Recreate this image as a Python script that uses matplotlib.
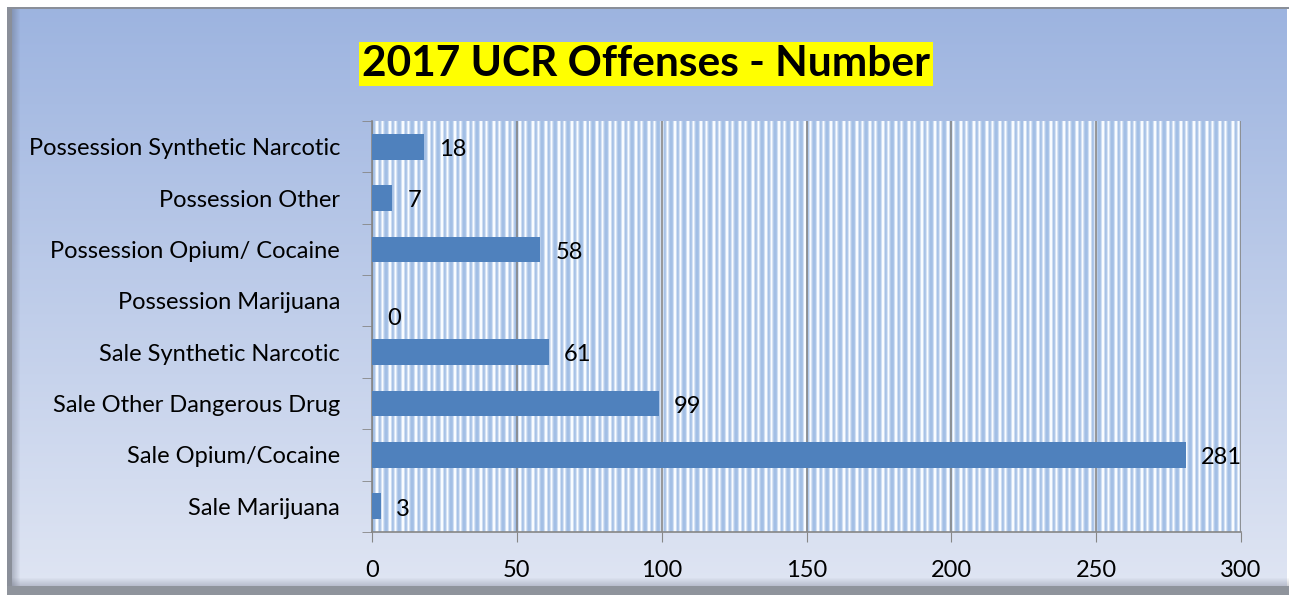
import numpy as np
import matplotlib.pyplot as plt
from matplotlib.patches import Rectangle

categories = ['Sale Marijuana', 'Sale Opium/Cocaine', 'Sale Other Dangerous Drug',
              'Sale Synthetic Narcotic', 'Possession Marijuana',
              'Possession Opium/ Cocaine', 'Possession Other',
              'Possession Synthetic Narcotic']
values = [3, 281, 99, 61, 0, 58, 7, 18]
xticks = [0, 50, 100, 150, 200, 250, 300]

plt.rcParams['font.family'] = ['Lato', 'DejaVu Sans']

W, H = 1289, 595
fig = plt.figure(figsize=(W / 100, H / 100), dpi=100)
fig.patch.set_facecolor('white')

# background panel with vertical gradient and frame
bg = fig.add_axes([0, 0, 1, 1], zorder=0)
bg.set_xlim(0, W)
bg.set_ylim(H, 0)
bg.axis('off')
top = np.array([0.616, 0.706, 0.878])
bot = np.array([0.875, 0.898, 0.953])
t = np.linspace(0, 1, 256)[:, None, None]
grad = top * (1 - t) + bot * t
grad = np.repeat(grad, 2, axis=1)
bg.imshow(grad, extent=[10, W - 2, 586, 9], aspect='auto', interpolation='bilinear')
# soft shadow along left and bottom edges
for i in range(8):
    a = 0.35 * (1 - i / 8)
    bg.add_patch(Rectangle((12 + i, 9), 1, 577, color='#5a6070', alpha=a, lw=0))
    bg.add_patch(Rectangle((12, 585 - i), W - 12, 1, color='#5a6070', alpha=a * 0.8, lw=0))
bg.add_patch(Rectangle((7, 8), 5, 582, color='#8a8f99', lw=0))
bg.add_patch(Rectangle((7, 7), W - 7, 2, color='#8a8f99', lw=0))
bg.add_patch(Rectangle((7, 586), W - 7, 9, color='#8f949c', lw=0))

# plot area
left, right = 372 / W, 1241 / W
bottom, topy = 1 - 532 / H, 1 - 121 / H
ax = fig.add_axes([left, bottom, right - left, topy - bottom], zorder=2)
ax.set_facecolor('none')

# striped plot-area fill
period = np.array([0.0, 0.0, 0.1, 0.55, 1.0, 1.0, 0.5, 0.05, 0.15, 0.6, 1.0, 0.6, 0.2])
lvl = np.tile(period, 67)
c1 = np.array([0.64, 0.75, 0.90])
c2 = np.array([0.98, 0.99, 1.0])
img = c1 * (1 - lvl[:, None]) + c2 * lvl[:, None]
img = img[None, :, :]
ax.imshow(img, extent=[0, 300, -0.5, len(categories) - 0.5], aspect='auto',
          interpolation='nearest', zorder=0)

y = np.arange(len(categories))
ax.barh(y, values, height=0.5, color='#4f81bd', zorder=3)
for yi, v in zip(y, values):
    off = -13 if v == 0 else -2
    ax.annotate(str(v), (v, yi), xytext=(11, off), textcoords='offset points',
                ha='left', va='center', fontsize=17, color='black', zorder=4)

ax.set_xlim(0, 300)
ax.set_ylim(-0.5, len(categories) - 0.5)
ax.set_xticks(xticks)
ax.set_xticklabels([str(x) for x in xticks], fontsize=17)
ax.set_yticks(y)
ax.set_yticklabels(categories, fontsize=17)
ax.set_yticks(np.arange(-0.5, len(categories), 1), minor=True)
ax.tick_params(axis='y', which='major', length=0, pad=23)
ax.tick_params(axis='y', which='minor', length=7, color='#868686', direction='out')
ax.tick_params(axis='x', length=7, color='#868686', direction='out', pad=13)
ax.grid(axis='x', color='#868686', lw=1.2, zorder=1)
for s in ['top', 'right']:
    ax.spines[s].set_visible(False)
for s in ['left', 'bottom']:
    ax.spines[s].set_color('#868686')
    ax.spines[s].set_linewidth(1.2)

fig.text(646 / W, 1 - 64 / H, '2017 UCR Offenses - Number', ha='center', va='center',
         fontsize=30.5, fontweight='bold', color='black', zorder=5,
         bbox=dict(facecolor='#ffff00', edgecolor='none', pad=2.5))

fig.savefig('out.png', dpi=100)
